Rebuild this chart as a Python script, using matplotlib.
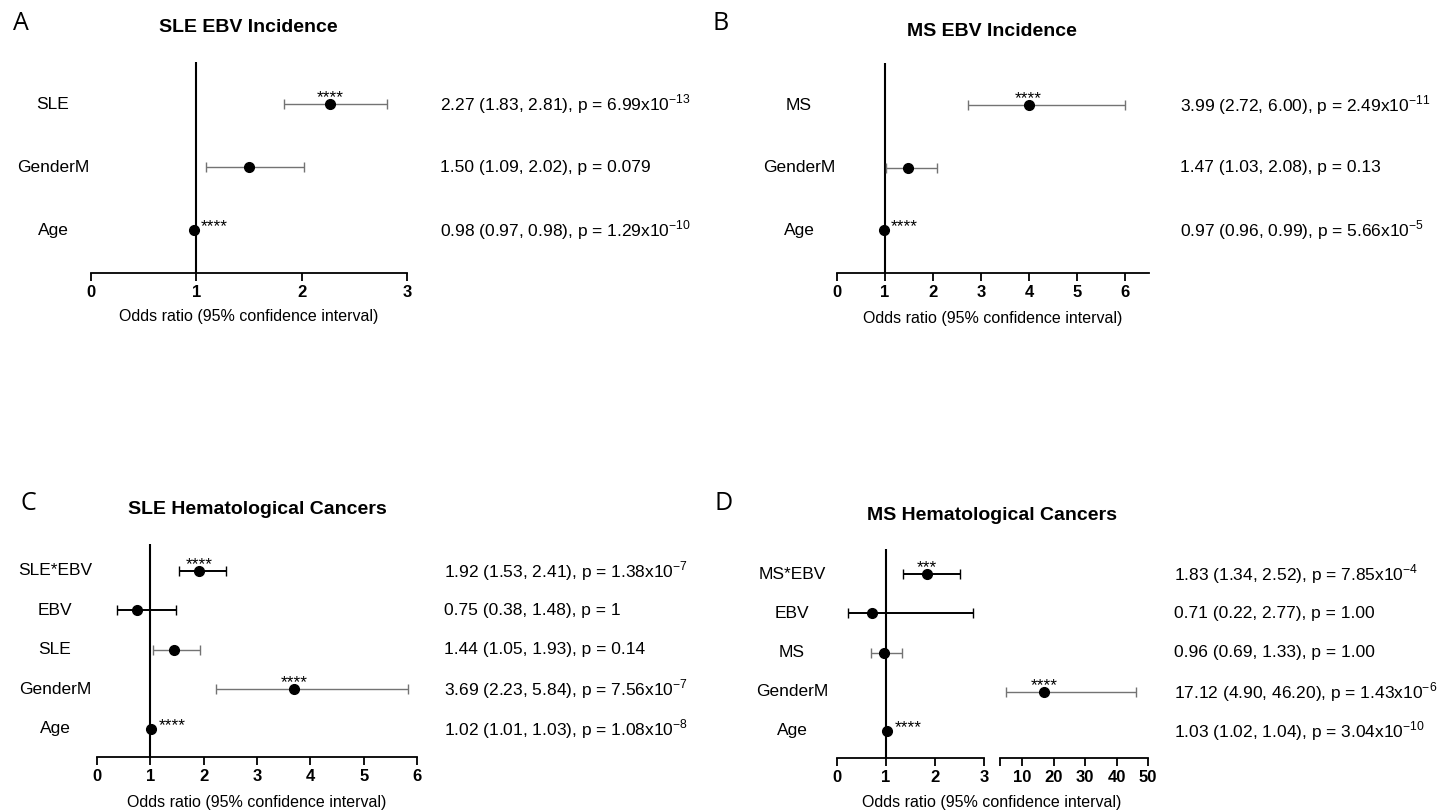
import matplotlib
matplotlib.use("Agg")
import matplotlib.pyplot as plt
import matplotlib.transforms as mtransforms

plt.rcParams["font.family"] = ["Liberation Sans", "DejaVu Sans"]
plt.rcParams["mathtext.fontset"] = "custom"
plt.rcParams["mathtext.rm"] = "Liberation Sans"

W, H = 1444, 811

# ---- data (odds ratio, 95% CI, p) ----
A_LABELS = ["SLE", "GenderM", "Age"]
A_OR = [2.27, 1.50, 0.98]
A_LO = [1.83, 1.09, 0.97]
A_HI = [2.81, 2.02, 0.98]
A_P = ["6.99x10^-13", "0.079", "1.29x10^-10"]
A_STARS = ["****", "", "****"]

B_LABELS = ["MS", "GenderM", "Age"]
B_OR = [3.99, 1.47, 0.97]
B_LO = [2.72, 1.03, 0.96]
B_HI = [6.00, 2.08, 0.99]
B_P = ["2.49x10^-11", "0.13", "5.66x10^-5"]
B_STARS = ["****", "", "****"]

C_LABELS = ["SLE*EBV", "EBV", "SLE", "GenderM", "Age"]
C_OR = [1.92, 0.75, 1.44, 3.69, 1.02]
C_LO = [1.53, 0.38, 1.05, 2.23, 1.01]
C_HI = [2.41, 1.48, 1.93, 5.84, 1.03]
C_P = ["1.38x10^-7", "1", "0.14", "7.56x10^-7", "1.08x10^-8"]
C_STARS = ["****", "", "", "****", "****"]

D_LABELS = ["MS*EBV", "EBV", "MS", "GenderM", "Age"]
D_OR = [1.83, 0.71, 0.96, 17.12, 1.03]
D_LO = [1.34, 0.22, 0.69, 4.90, 1.02]
D_HI = [2.52, 2.77, 1.33, 46.20, 1.04]
D_P = ["7.85x10^-4", "1.00", "1.00", "1.43x10^-6", "3.04x10^-10"]
D_STARS = ["***", "", "", "****", "****"]

# error bar colours per row (style, not data)
A_ECOL = ["0.45", "0.45", "k"]
B_ECOL = ["0.45", "0.45", "k"]
C_ECOL = ["k", "k", "0.45", "0.45", "0.45"]
D_ECOL = ["k", "k", "0.45", "0.45", "0.45"]


def p_text(p):
    if "^" in p:
        base, exp = p.split("^")
        return base + r"$^{\mathregular{" + exp + "}}$"
    return p


def px_axes(fig, l, r, t, b):
    return fig.add_axes([l / W, 1 - b / H, (r - l) / W, (b - t) / H])


def style_axis(ax, xlim, ylim, ticks, labels=None):
    ax.set_xlim(*xlim)
    ax.set_ylim(*ylim)
    for s in ("top", "right", "left"):
        ax.spines[s].set_visible(False)
    ax.spines["bottom"].set_linewidth(1.3)
    ax.set_yticks([])
    ax.set_xticks(ticks)
    ax.set_xticklabels(labels if labels is not None else [str(t) for t in ticks],
                       fontweight="bold", fontsize=12)
    ax.tick_params(axis="x", direction="out", length=6, width=1.3, pad=2.5)
    ax.patch.set_alpha(0)


def draw_rows(ax_for, fig, labels, ors, los, his, ps, stars, ecols, label_x, text_x):
    n = len(labels)
    for i, lab in enumerate(labels):
        y = n - i
        ax = ax_for(his[i])
        ax.errorbar(ors[i], y, xerr=[[ors[i] - los[i]], [his[i] - ors[i]]], fmt="o",
                    color="k", ms=7, ecolor=ecols[i], elinewidth=1.4 if ecols[i] == "k" else 1.0,
                    capsize=3.5, capthick=1.0, zorder=3)
        if stars[i]:
            if his[i] - los[i] < 0.05:
                ax.annotate(stars[i], (ors[i], y), xytext=(5, -0.5), textcoords="offset points",
                            ha="left", va="baseline", fontsize=12.5)
            else:
                ax.annotate(stars[i], (ors[i], y), xytext=(0, 1.5), textcoords="offset points",
                            ha="center", va="baseline", fontsize=12.5)
        tr = mtransforms.blended_transform_factory(fig.transFigure, ax.transData)
        ax.text(label_x / W, y, lab, transform=tr, ha="center", va="center", fontsize=12.5)
        txt = f"{ors[i]:.2f} ({los[i]:.2f}, {his[i]:.2f}), p = {p_text(ps[i])}"
        ax.text(text_x / W, y, txt, transform=tr, ha="left", va="center", fontsize=12.5)


fig = plt.figure(figsize=(W / 100, H / 100), dpi=100)

# ---- panel A ----
axA = px_axes(fig, 91, 407, 62, 273)
style_axis(axA, (0, 3), (0.32, 3.67), [0, 1, 2, 3])
axA.axvline(1, color="k", lw=1.5, zorder=1)
draw_rows(lambda h: axA, fig, A_LABELS, A_OR, A_LO, A_HI, A_P, A_STARS, A_ECOL, 53, 440)

# ---- panel B ----
axB = px_axes(fig, 837, 1149, 63, 273)
style_axis(axB, (0, 6.5), (0.32, 3.67), [0, 1, 2, 3, 4, 5, 6])
axB.axvline(1, color="k", lw=1.5, zorder=1)
draw_rows(lambda h: axB, fig, B_LABELS, B_OR, B_LO, B_HI, B_P, B_STARS, B_ECOL, 799, 1180)

# ---- panel C ----
axC = px_axes(fig, 97, 417, 544, 757)
style_axis(axC, (0, 6), (0.29, 5.68), [0, 1, 2, 3, 4, 5, 6])
axC.axvline(1, color="k", lw=1.5, zorder=1)
draw_rows(lambda h: axC, fig, C_LABELS, C_OR, C_LO, C_HI, C_P, C_STARS, C_ECOL, 55, 444)

# ---- panel D (broken x axis) ----
axD1 = px_axes(fig, 837, 984, 549, 758)
axD2 = px_axes(fig, 1000, 1148, 549, 758)
style_axis(axD1, (0, 3), (0.31, 5.64), [0, 1, 2, 3])
style_axis(axD2, (3, 50), (0.31, 5.64), [3, 10, 20, 30, 40, 50],
           ["", "10", "20", "30", "40", "50"])
axD1.axvline(1, color="k", lw=1.5, zorder=1)
draw_rows(lambda h: axD2 if h > 3 else axD1, fig, D_LABELS, D_OR, D_LO, D_HI, D_P,
          D_STARS, D_ECOL, 792, 1174)

# ---- titles, panel letters, x labels ----
for x, y, t in [(248, 28, "SLE EBV Incidence"), (992, 31, "MS EBV Incidence"),
                (257, 510, "SLE Hematological Cancers"), (992, 515, "MS Hematological Cancers")]:
    fig.text(x / W, 1 - y / H, t, ha="center", va="center", fontsize=14, fontweight="bold")
for x, y, t in [(21, 24, "A"), (721, 24, "B"), (28, 503, "C"), (724, 503, "D")]:
    fig.text(x / W, 1 - y / H, t, ha="center", va="center", fontsize=18,
             family=["Open Sans", "DejaVu Sans"])
for x, y in [(249, 317), (993, 318), (257, 803), (992, 803)]:
    fig.text(x / W, 1 - y / H, "Odds ratio (95% confidence interval)", ha="center",
             va="center", fontsize=11.5)

fig.savefig("out.png", dpi=100)
